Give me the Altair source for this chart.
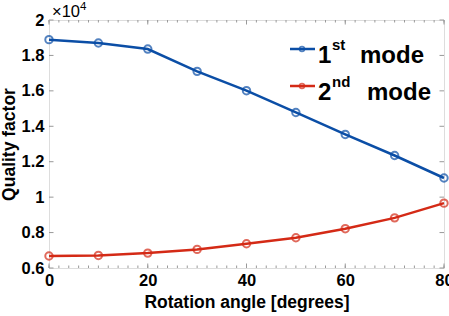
import altair as alt
import pandas as pd

angles = [0, 10, 20, 30, 40, 50, 60, 70, 80]
q_mode1 = [18890, 18700, 18360, 17100, 16010, 14780, 13540, 12350, 11080]
q_mode2 = [6680, 6710, 6840, 7050, 7370, 7710, 8220, 8830, 9660]
modes = ["1st mode", "2nd mode"]
colors = ["#0b4ea6", "#d42a16"]
x_major = [0, 20, 40, 60, 80]
x_minor = [v for v in range(0, 81, 2)]
y_major = [6000, 8000, 10000, 12000, 14000, 16000, 18000, 20000]

W, H = 395, 248
FONT = "Liberation Sans"

df = pd.DataFrame({
    "angle": angles * 2,
    "Q": q_mode1 + q_mode2,
    "mode": [modes[0]] * len(angles) + [modes[1]] * len(angles),
})

xs = alt.Scale(domain=[0, 80], nice=False, zero=False)
ys = alt.Scale(domain=[6000, 20000], nice=False, zero=False)
cs = alt.Scale(domain=modes, range=colors)

x_axis = alt.Axis(
    title="Rotation angle [degrees]", values=x_major, ticks=False, domain=False, grid=False,
    labelFont=FONT, labelFontWeight="bold", labelFontSize=16.5, labelColor="black",
    labelPadding=4, titleFont=FONT, titleFontWeight="bold", titleFontSize=17.5,
    titleColor="black", titlePadding=5, labelOverlap=False, labelFlush=False)
y_axis = alt.Axis(
    title="Quality factor", values=y_major, ticks=False, domain=False, grid=False,
    labelExpr="format(datum.value/10000, '~g')",
    labelFont=FONT, labelFontWeight="bold", labelFontSize=16.5, labelColor="black",
    labelPadding=5, titleFont=FONT, titleFontWeight="bold", titleFontSize=17.5,
    titleColor="black", titlePadding=3, labelOverlap=False, labelFlush=False)

base = alt.Chart(df)
lines = base.mark_line(strokeWidth=2.5).encode(
    x=alt.X("angle:Q", scale=xs, axis=x_axis),
    y=alt.Y("Q:Q", scale=ys, axis=y_axis),
    color=alt.Color("mode:N", scale=cs, legend=None),
    detail="mode:N",
)
points = base.mark_point(shape="circle", filled=False, size=55, strokeWidth=2).encode(
    x=alt.X("angle:Q", scale=xs, axis=x_axis),
    y=alt.Y("Q:Q", scale=ys, axis=y_axis),
    color=alt.Color("mode:N", scale=cs, legend=None),
)

tick_col = "#999999"
xmaj_df = pd.DataFrame({"angle": x_major})
xmin_df = pd.DataFrame({"angle": x_minor})
ymaj_df = pd.DataFrame({"Q": y_major})

def xticks(d, length):
    bot = alt.Chart(d).mark_rule(color=tick_col, strokeWidth=1).encode(
        x=alt.X("angle:Q", scale=xs, axis=x_axis), y=alt.value(H), y2=alt.value(H - length))
    top = alt.Chart(d).mark_rule(color=tick_col, strokeWidth=1).encode(
        x=alt.X("angle:Q", scale=xs, axis=x_axis), y=alt.value(0), y2=alt.value(length))
    return bot + top

def yticks(d, length):
    left = alt.Chart(d).mark_rule(color=tick_col, strokeWidth=1).encode(
        y=alt.Y("Q:Q", scale=ys, axis=y_axis), x=alt.value(0), x2=alt.value(length))
    right = alt.Chart(d).mark_rule(color=tick_col, strokeWidth=1).encode(
        y=alt.Y("Q:Q", scale=ys, axis=y_axis), x=alt.value(W), x2=alt.value(W - length))
    return left + right

one = pd.DataFrame({"a": [0]})

def txt(s, x, y, size, weight="bold", align="left"):
    return alt.Chart(one).mark_text(text=s, font=FONT, fontSize=size, fontWeight=weight,
                                    align=align, baseline="alphabetic", color="black").encode(
        x=alt.value(x), y=alt.value(y))

# exponent label
expo = txt("\u00d710", 3, -3, 16.5, "normal") + txt("4", 31, -10, 11.5, "normal")

# legend
leg = []
for i, (c, yy) in enumerate([(colors[0], 29), (colors[1], 66)]):
    leg.append(alt.Chart(one).mark_rule(color=c, strokeWidth=2.5).encode(
        x=alt.value(241), x2=alt.value(266), y=alt.value(yy)))
    leg.append(alt.Chart(one).mark_point(shape="circle", filled=False, size=22, strokeWidth=1.8, color=c).encode(
        x=alt.value(253), y=alt.value(yy)))
legend_text = (txt("1", 269, 43, 24) + txt("st", 283, 30, 15) + txt("mode", 311, 43, 24) +
               txt("2", 269, 80, 24) + txt("nd", 283, 67, 15) + txt("mode", 318, 80, 24))

chart = alt.layer(
    lines, points,
    xticks(xmin_df, 2.5), xticks(xmaj_df, 4.5), yticks(ymaj_df, 4.5),
    expo, *leg, legend_text
).properties(
    width=W, height=H,
    autosize=alt.AutoSizeParams(type="none"),
    padding={"left": 49, "top": 20, "right": 5, "bottom": 48},
).configure_view(stroke=tick_col, strokeWidth=1).configure(background="white")

chart.save("out.html", embed_options={"renderer": "svg", "actions": False})
